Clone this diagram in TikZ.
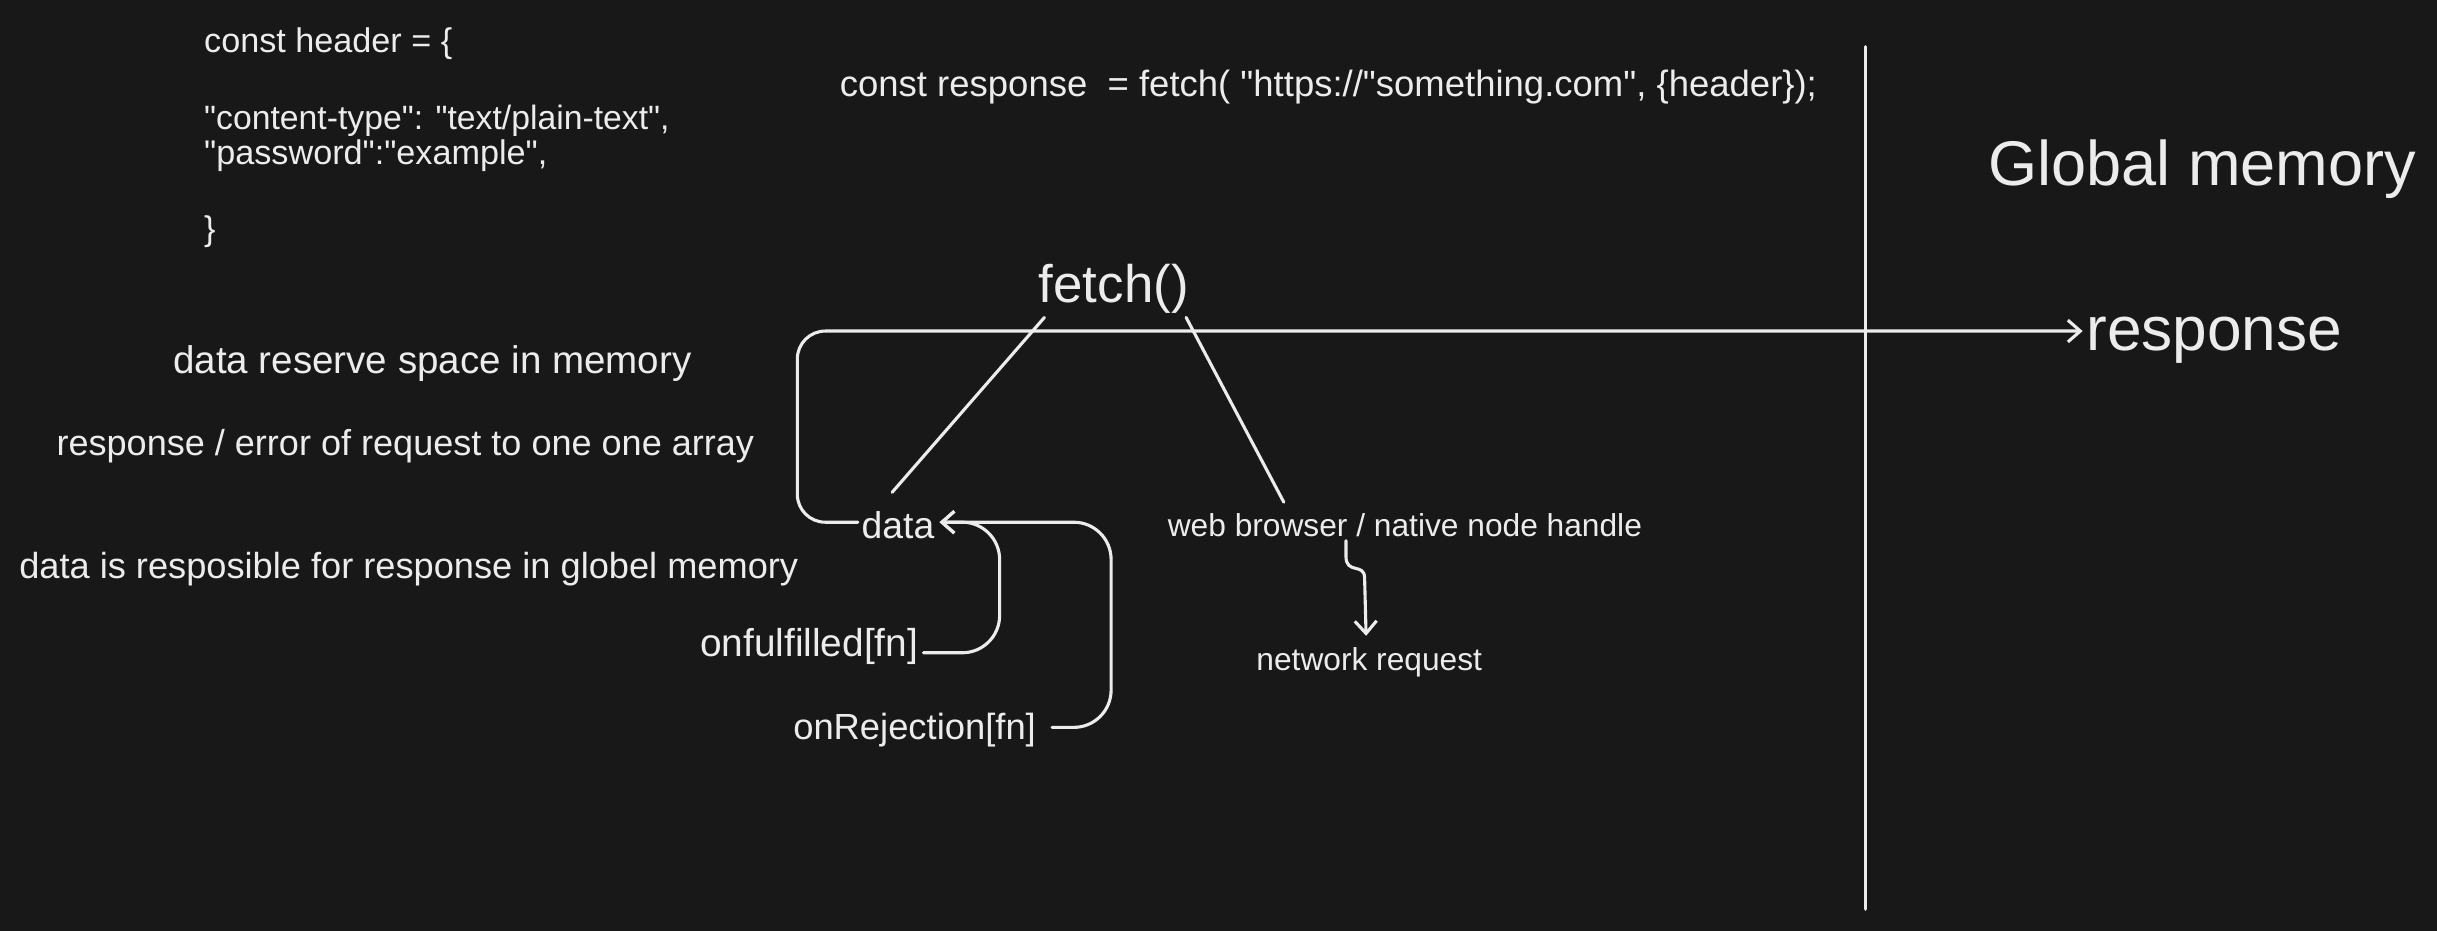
\documentclass[tikz,border=0pt]{standalone}
\usepackage{fontspec}
\setmainfont{Liberation Sans}[Ligatures=TeXOff]
\usetikzlibrary{arrows.meta}
\definecolor{bg}{RGB}{24,24,24}
\definecolor{fg}{RGB}{236,236,236}
\newcommand{\qq}{\symbol{34}}
\begin{document}
\begin{tikzpicture}[x=0.5pt,y=-0.5pt,
  txt/.style={text=fg, inner sep=0pt, anchor=west, font=\fontsize{11.7}{14}\selectfont},
  code/.style={txt, font=\fontsize{11}{13}\selectfont},
  small/.style={txt, font=\fontsize{10.2}{12}\selectfont},
  big/.style={txt, font=\fontsize{20}{24}\selectfont},
  ln/.style={draw=fg, line width=1pt, line cap=round, line join=round},
  barb/.style={-{Straight Barb[length=4pt,width=7pt]}}
]
\fill[bg] (0,0) rectangle (1568,599);
\useasboundingbox (0,0) rectangle (1568,599);

% code block
\node[code] (h1) at (131,28) {const header = \{};
\node[code, font=\fontsize{10.85}{13}\selectfont] (h2) at (131,78) {\qq content-type\qq: \qq text/plain-text\qq,};
\node[code] (h3) at (131,100) {\qq password\qq:\qq example\qq,};
\node[code] (h4) at (131,149) {\}};
\node[code, font=\fontsize{11.74}{13}\selectfont] (call) at (540,56) {const response\ \ = fetch( \qq https://\qq something.com\qq, \{header\});};

% notes
\node[txt, font=\fontsize{12.4}{14}\selectfont] (t1) at (111,234) {data reserve space in memory};
\node[txt, font=\fontsize{11.6}{14}\selectfont] (t2) at (36,287) {response / error of request to one one array};
\node[txt, font=\fontsize{11.65}{14}\selectfont] (t3) at (12,366) {data is resposible for response in globel memory};

% diagram
\node[big, font=\fontsize{20.3}{24}\selectfont] (glob) at (1279,109) {Global memory};
\node[txt, font=\fontsize{17}{20}\selectfont] (fetch) at (668,186) {fetch()};
\node[big] (gresp) at (1342,219) {response};
\node[txt, font=\fontsize{12}{14}\selectfont] (data) at (554,338) {data};
\node[small] (wb) at (751,338) {web browser / native node handle};
\node[small] (net) at (808,426) {network request};
\node[txt, font=\fontsize{12.5}{14}\selectfont] (onf) at (450,416) {onfulfilled[fn]};
\node[txt] (onr) at (510,470) {onRejection[fn]};

% divider
\coordinate (vtop) at (1200,30);
\coordinate (vbot) at (1200,585);
\draw[ln] (vtop) -- (vbot);

% connectors
\draw[ln, barb, rounded corners=9] ([shift={(-2,-2)}]data.west) -- ++(-39,0) |- ([shift={(-2,-6)}]gresp.west);
\draw[ln] ([shift={(4,2)}]fetch.south west) -- ([shift={(20,-12)}]data.north west);
\draw[ln] ([shift={(-2,2)}]fetch.south east) -- ([shift={(75,-7)}]wb.north west);
\draw[ln, barb, rounded corners=12] ([shift={(3,4)}]onf.east) -- ++(49,0) |- ([shift={(3,-2)}]data.east);
\draw[ln, barb, rounded corners=12] ([shift={(10,-2)}]onr.east) -- ++(38,0) |- ([shift={(3,-2)}]data.east);
\coordinate (w1) at ([shift={(115,2)}]wb.south west);
\draw[ln, barb] (w1) -- ++(0,10) .. controls +(0,12) and +(0,-10) .. ++(12,14) -- ([shift={(-2,-7)}]net.north);
\end{tikzpicture}
\end{document}
